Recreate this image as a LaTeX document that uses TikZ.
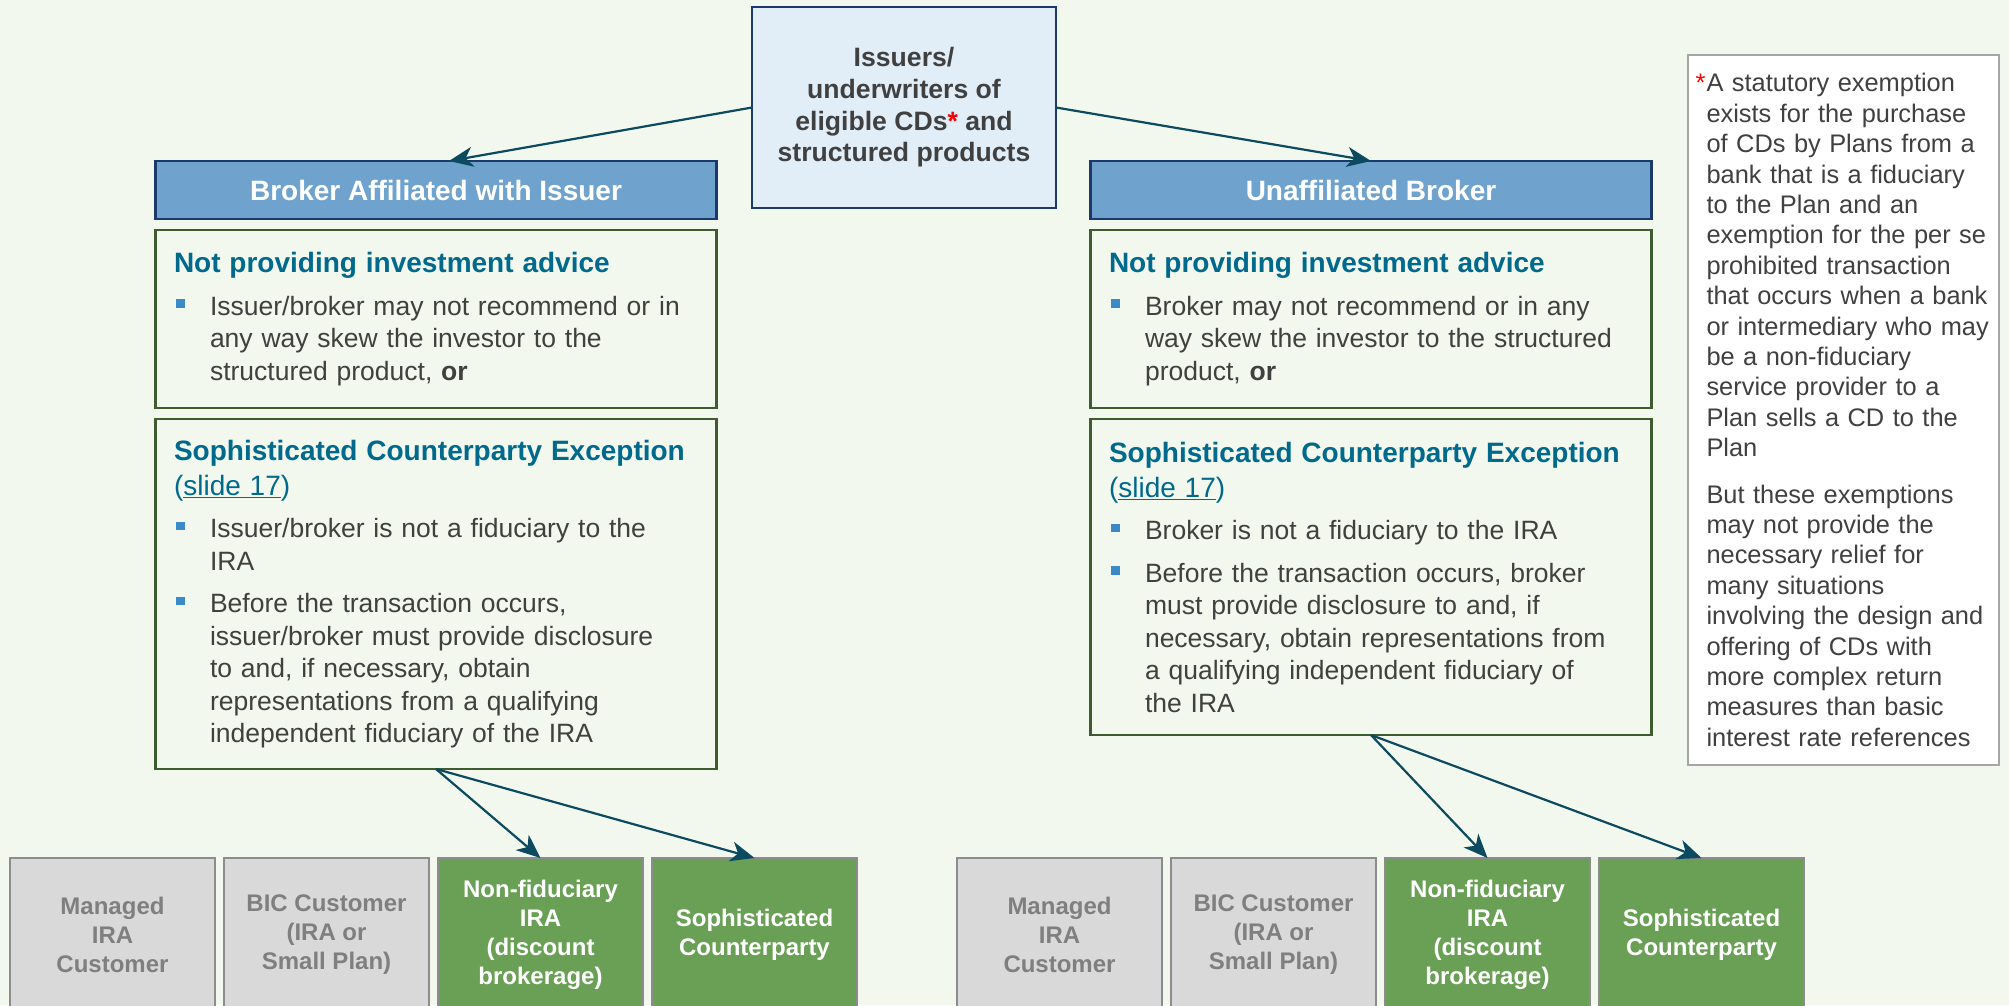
\documentclass[tikz,border=0pt]{standalone}
\usepackage{fontspec}
\setmainfont{Liberation Sans}
\usetikzlibrary{arrows.meta}
\usetikzlibrary{positioning}

\definecolor{slidebg}{HTML}{F2F8EE}
\definecolor{hdrblue}{HTML}{6FA3CE}
\definecolor{hdrline}{HTML}{1B3A6B}
\definecolor{topfill}{HTML}{E1EEF8}
\definecolor{boxgreen}{HTML}{3F5B30}
\definecolor{headteal}{HTML}{00698C}
\definecolor{bodygray}{HTML}{404040}
\definecolor{bulblue}{HTML}{3A8AC8}
\definecolor{custgray}{HTML}{D9D9D9}
\definecolor{custline}{HTML}{8C8C8C}
\definecolor{custtext}{HTML}{7F7F7F}
\definecolor{custgreen}{HTML}{6AA056}
\definecolor{arrowteal}{HTML}{0C4A60}
\definecolor{notegray}{HTML}{A6A6A6}

\newcommand\sqb{\textcolor{bulblue}{\rule[7.5pt]{8.5pt}{8.5pt}}}
\newcommand\hd[1]{{\fontsize{28}{35}\selectfont\bfseries\color{headteal}#1\par}}
\newcommand\bitem[1]{\hangindent=36pt\hangafter=1\noindent\makebox[36pt][l]{\hspace{2pt}\sqb}#1\par}

\begin{document}
\begin{tikzpicture}[->,>={Stealth[length=24pt,width=20pt,inset=7pt]},x=1pt,y=-1pt,
  link/.style={draw=arrowteal,line width=2.2pt},
  top node/.style={draw=hdrline,line width=2pt,fill=topfill,outer sep=0pt,minimum width=304pt,
    minimum height=201pt,align=center,text=bodygray,font=\fontsize{26.6}{31.7}\selectfont\bfseries},
  head node/.style={draw=hdrline,line width=2.5pt,fill=hdrblue,outer sep=0pt,minimum width=561pt,
    minimum height=58pt,text=white,font=\fontsize{28}{34}\selectfont\bfseries},
  info node/.style={draw=boxgreen,line width=2.5pt,outer sep=0pt,text width=524pt,inner xsep=18.5pt,
    inner ysep=0pt,align=left,text=bodygray,font=\fontsize{26.5}{32.5}\selectfont\setlength{\parskip}{10pt}},
  cust node/.style={draw=custline,line width=2pt,fill=custgray,outer sep=0pt,inner sep=0pt,
    minimum width=205pt,minimum height=154pt,align=center,text=custtext,font=\fontsize{24}{29}\selectfont\bfseries},
  pick node/.style={cust node,fill=custgreen,text=white},
  note node/.style={draw=notegray,line width=2.5pt,fill=white,outer sep=0pt,text width=296pt,inner xsep=7.5pt,
    minimum height=710pt,align=left,text=bodygray,font=\fontsize{25.4}{30.4}\selectfont\setlength{\parskip}{16pt}}]

  \useasboundingbox (0,0) rectangle (2009,1005);
  \fill[slidebg] (0,0) rectangle (2009,1005);

  \node[top node] (top) at (904,107.5) {Issuers/\\underwriters of\\eligible CDs{\color{red}*} and\\structured products};

  % left branch
  \node[head node] (hdrL) at (436,190) {Broker Affiliated with Issuer};
  \node[info node,minimum height=178pt] (advL) [below=11pt of hdrL] {%
    \hd{Not providing investment advice}
    \bitem{Issuer/broker may not recommend or in\newline any way skew the investor to the\newline structured product, \textbf{or}}};
  \node[info node,minimum height=350pt] (scpL) [below=11pt of advL] {%
    \hd{Sophisticated Counterparty Exception\newline{\mdseries(\underline{slide 17})}}
    \bitem{Issuer/broker is not a fiduciary to the\newline IRA}
    \bitem{Before the transaction occurs,\newline issuer/broker must provide disclosure\newline to and, if necessary, obtain\newline representations from a qualifying\newline independent fiduciary of the IRA}};

  % right branch
  \node[head node] (hdrR) at (1371,190) {Unaffiliated Broker};
  \node[info node,minimum height=178pt] (advR) [below=11pt of hdrR] {%
    \hd{Not providing investment advice}
    \bitem{Broker may not recommend or in any\newline way skew the investor to the structured\newline product, \textbf{or}}};
  \node[info node,minimum height=316pt] (scpR) [below=11pt of advR] {%
    \hd{Sophisticated Counterparty Exception\newline{\mdseries(\underline{slide 17})}}
    \bitem{Broker is not a fiduciary to the IRA}
    \bitem{Before the transaction occurs, broker\newline must provide disclosure to and, if\newline necessary, obtain representations from\newline a qualifying independent fiduciary of\newline the IRA}};

  % footnote
  \node[note node] (note) at (1843.5,410) {%
    \leftskip=11pt\noindent\hspace*{-11pt}\makebox[11pt][l]{\color{red}*}A statutory exemption\newline
    exists for the purchase\newline of CDs by Plans from a\newline bank that is a fiduciary\newline
    to the Plan and an\newline exemption for the per se\newline prohibited transaction\newline
    that occurs when a bank\newline or intermediary who may\newline be a non-fiduciary\newline
    service provider to a\newline Plan sells a CD to the\newline Plan\par
    \noindent But these exemptions\newline may not provide the\newline necessary relief for\newline
    many situations\newline involving the design and\newline offering of CDs with\newline
    more complex return\newline measures than basic\newline interest rate references\par};

  % customers
  \node[cust node] (L1) at (112.5,935) {Managed\\IRA\\Customer};
  \node[cust node] (L2) [right=9pt of L1] {BIC Customer\\(IRA or\\Small Plan)};
  \node[pick node] (L3) [right=9pt of L2] {Non-fiduciary\\IRA\\(discount\\brokerage)};
  \node[pick node] (L4) [right=9pt of L3] {Sophisticated\\Counterparty};
  \node[cust node] (R1) at (1059.5,935) {Managed\\IRA\\Customer};
  \node[cust node] (R2) [right=9pt of R1] {BIC Customer\\(IRA or\\Small Plan)};
  \node[pick node] (R3) [right=9pt of R2] {Non-fiduciary\\IRA\\(discount\\brokerage)};
  \node[pick node] (R4) [right=9pt of R3] {Sophisticated\\Counterparty};

  \path
    (top.west) edge[link] ([xshift=13pt]hdrL.north)
    (top.east) edge[link] (hdrR.north)
    (scpL.south) edge[link] (L3.north)
    (scpL.south) edge[link] (L4.north)
    (scpR.south) edge[link] (R3.north)
    (scpR.south) edge[link] (R4.north);
\end{tikzpicture}
\end{document}
